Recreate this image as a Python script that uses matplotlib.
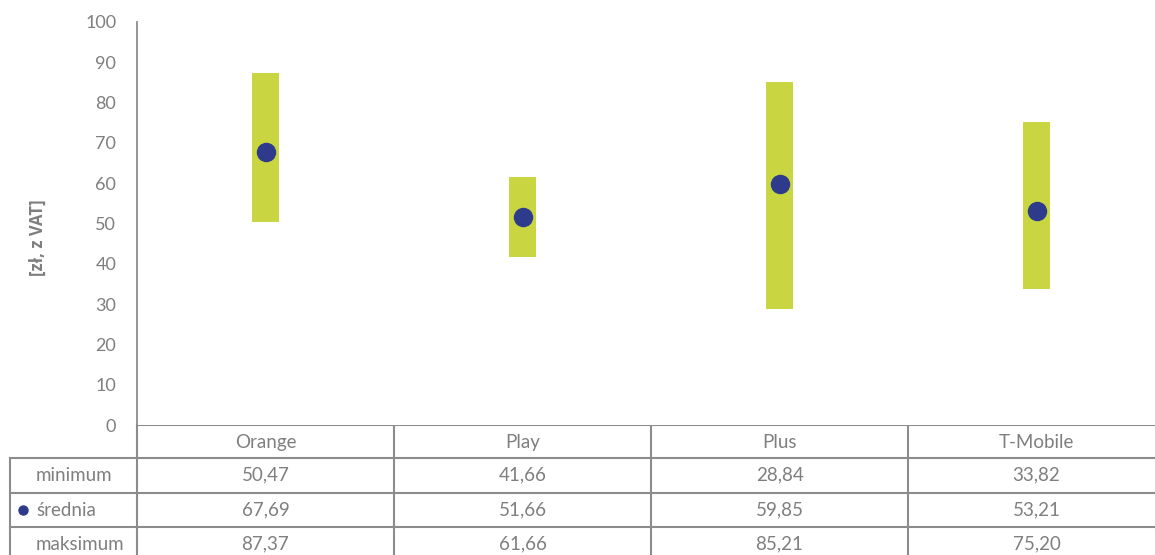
import numpy as np
import matplotlib.pyplot as plt

operators = ["Orange", "Play", "Plus", "T-Mobile"]
minimum = [50.47, 41.66, 28.84, 33.82]
srednia = [67.69, 51.66, 59.85, 53.21]
maksimum = [87.37, 61.66, 85.21, 75.20]
row_labels = ["minimum", "średnia", "maksimum"]

bar_color = "#C9D541"
dot_color = "#2E3B8C"
text_color = "#7F7F7F"
line_color = "#8C8C8C"

plt.rcParams["font.family"] = ["Lato", "DejaVu Sans"]

W, H = 1155, 555
fig = plt.figure(figsize=(W / 100, H / 100), dpi=100)

# plot area in pixels (the right edge runs a little past the figure)
left, top, bottom = 137, 22, 425
col_w = 257
right = left + col_w * len(operators)
ax = fig.add_axes([left / W, 1 - bottom / H, (right - left) / W, (bottom - top) / H])

x = np.arange(len(operators))
lo = np.array(minimum)
hi = np.array(maksimum)
ax.bar(x, hi - lo, bottom=lo, width=0.105, color=bar_color, zorder=2)
ax.plot(x, srednia, "o", color=dot_color, markersize=13, zorder=3)

ax.set_xlim(-0.5, len(operators) - 0.5)
ax.set_ylim(0, 100)
ax.set_yticks(range(0, 101, 10))
ax.tick_params(axis="y", length=0, pad=15, labelsize=13, labelcolor=text_color)
ax.set_xticks([])
for s in ["top", "right", "bottom"]:
    ax.spines[s].set_visible(False)
ax.spines["left"].set_color(line_color)
ax.spines["left"].set_linewidth(1.3)
ax.set_ylabel("[zł, z VAT]", fontsize=12, fontweight="bold", color=text_color,
              family=["Open Sans", "DejaVu Sans"])
ax.yaxis.set_label_coords(-0.088, 0.464)

# data table drawn under the plot, in pixel coordinates
tax = fig.add_axes([0, 0, 1, 1], zorder=-1)
tax.set_xlim(0, W)
tax.set_ylim(H, 0)
tax.axis("off")

row_tops = [bottom, 458, 493, 527]
row_h = 34.5
lw = 1.5

tax.plot([left, W], [row_tops[0], row_tops[0]], color=line_color, lw=lw)
for yy in row_tops[1:]:
    tax.plot([10, W], [yy, yy], color=line_color, lw=lw)
tax.plot([10, 10], [row_tops[1], H], color=line_color, lw=lw)
for i in range(len(operators)):
    xx = left + i * col_w
    tax.plot([xx, xx], [row_tops[0], H], color=line_color, lw=lw)

fs = 13.5
for i, name in enumerate(operators):
    cx = left + (i + 0.5) * col_w
    tax.text(cx, row_tops[0] + row_h / 2, name, ha="center", va="center",
             fontsize=fs, color=text_color)
    for r, vals in enumerate([minimum, srednia, maksimum]):
        tax.text(cx, row_tops[r + 1] + row_h / 2, f"{vals[i]:.2f}".replace(".", ","),
                 ha="center", va="center", fontsize=fs, color=text_color)

for r, lab in enumerate(row_labels):
    cy = row_tops[r + 1] + row_h / 2
    if lab == "średnia":
        tax.plot([23], [cy], "o", color=dot_color, markersize=6.5)
    tax.text(36, cy, lab, ha="left", va="center", fontsize=fs, color=text_color)

fig.savefig("out.png", dpi=100)
